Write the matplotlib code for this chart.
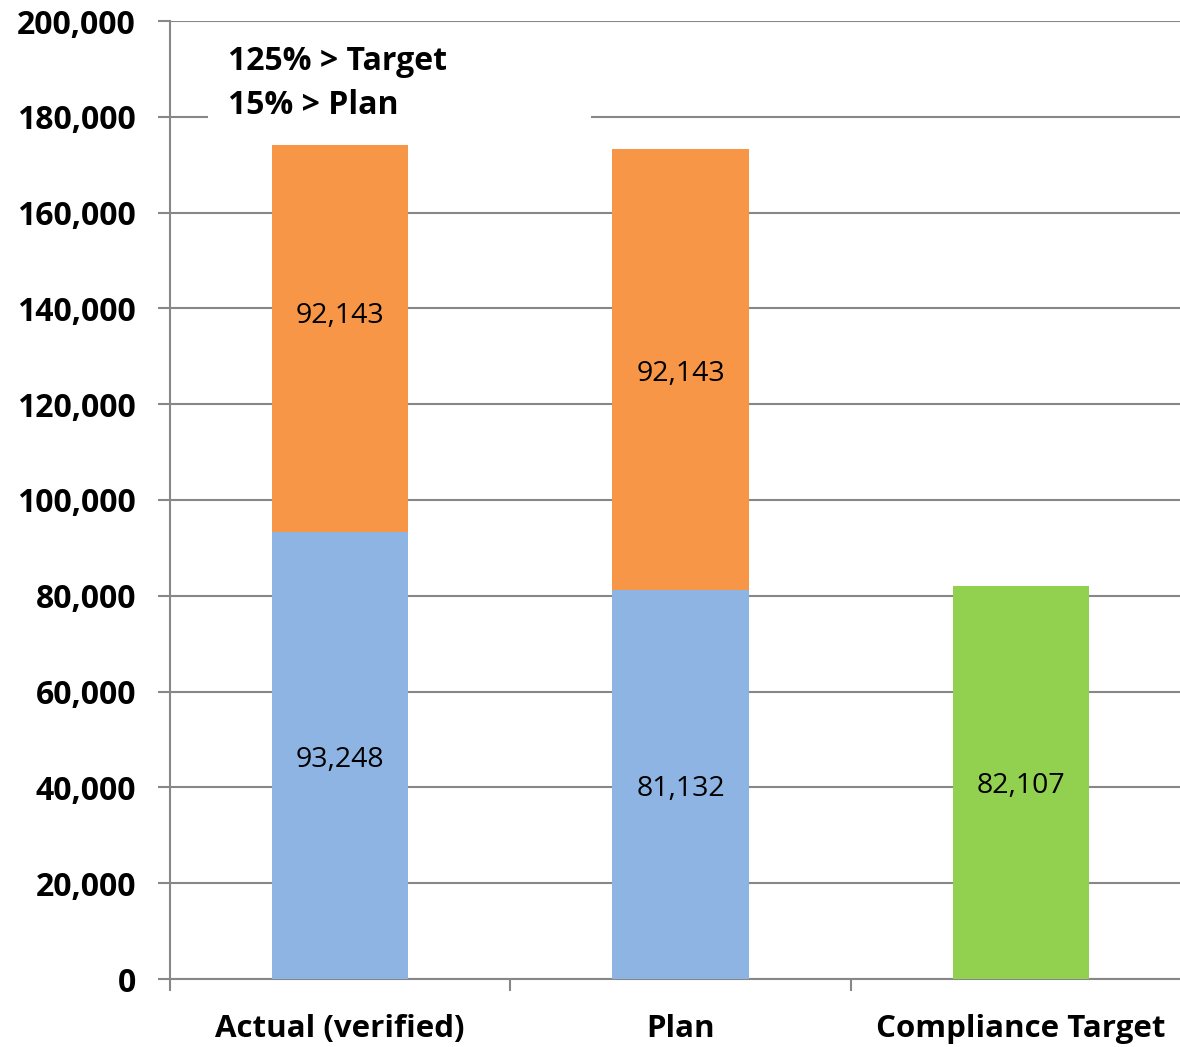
import matplotlib.pyplot as plt
from matplotlib.patches import Rectangle
from matplotlib.transforms import offset_copy

# data
categories = ['Actual (verified)', 'Plan', 'Compliance Target']
base_values = [93248, 81132, 0]          # blue segment
top_values = [80850, 92143, 0]           # orange segment as drawn
target_values = [0, 0, 82107]            # green bar
base_labels = ['93,248', '81,132', None]
top_labels = ['92,143', '92,143', None]
top_label_values = [92143, 92143, 0]
target_labels = [None, None, '82,107']
note_lines = ['125% > Target', '15% > Plan']
y_ticks = list(range(0, 200001, 20000))

blue = '#8EB4E3'
orange = '#F79646'
green = '#92D050'
grid_color = '#878787'

plt.rcParams['font.family'] = ['Open Sans', 'DejaVu Sans']

W, H = 1180, 1047
fig = plt.figure(figsize=(W / 100, H / 100), dpi=100)
left, right, bottom, top = 170, 1191, 979, 21
ax = fig.add_axes([left / W, (H - bottom) / H, (right - left) / W, (bottom - top) / H])

x = list(range(len(categories)))
ax.bar(x, base_values, width=0.4, color=blue, zorder=3)
ax.bar(x, top_values, width=0.4, bottom=base_values, color=orange, zorder=3)
ax.bar(x, target_values, width=0.4, color=green, zorder=3)

lab_size = 20.5
lab_tr = offset_copy(ax.transData, fig=fig, x=0, y=-4, units='dots')
for i in x:
    if base_labels[i]:
        ax.text(i, base_values[i] / 2, base_labels[i], ha='center', va='center',
                fontsize=lab_size, zorder=4, transform=lab_tr)
    if top_labels[i]:
        ax.text(i, base_values[i] + top_label_values[i] / 2, top_labels[i],
                ha='center', va='center', fontsize=lab_size, zorder=4,
                transform=lab_tr)
    if target_labels[i]:
        ax.text(i, target_values[i] / 2, target_labels[i], ha='center', va='center',
                fontsize=lab_size, zorder=4, transform=lab_tr)

ax.set_xlim(-0.5, 2.5)
ax.set_ylim(0, 200000)
ax.set_yticks(y_ticks)
ax.set_yticklabels([f'{v:,}' for v in y_ticks], fontsize=23, fontweight='bold')
ax.yaxis.grid(True, color=grid_color, linewidth=1.5, zorder=0)
ax.set_axisbelow(True)

ax.set_xticks([-0.5, 0.5, 1.5, 2.5])
ax.set_xticklabels([])
ax.set_xticks(x, minor=True)
ax.set_xticklabels(categories, minor=True, fontsize=22.5, fontweight='bold')
ax.tick_params(axis='x', which='minor', length=0, pad=25)
ax.tick_params(axis='x', which='major', length=8.5, width=1.5, color=grid_color)
ax.tick_params(axis='y', length=8.5, width=1.5, color=grid_color, pad=16)

for s in ['top', 'right']:
    ax.spines[s].set_visible(False)
for s in ['left', 'bottom']:
    ax.spines[s].set_color(grid_color)
    ax.spines[s].set_linewidth(1.5)

# text box with white fill hiding the gridline behind it
ax.add_patch(Rectangle(((208 - left) / (right - left), (bottom - 122) / (bottom - top)),
                       (591 - 208) / (right - left), 85 / (bottom - top),
                       transform=ax.transAxes, facecolor='white', edgecolor='none',
                       zorder=2))
ax.text((228 - left) / (right - left), (bottom - 61) / (bottom - top), note_lines[0],
        transform=ax.transAxes, ha='left', va='center', fontsize=23,
        fontweight='bold', zorder=5)
ax.text((228 - left) / (right - left), (bottom - 105) / (bottom - top), note_lines[1],
        transform=ax.transAxes, ha='left', va='center', fontsize=23,
        fontweight='bold', zorder=5)

fig.savefig('out.png', dpi=100)
